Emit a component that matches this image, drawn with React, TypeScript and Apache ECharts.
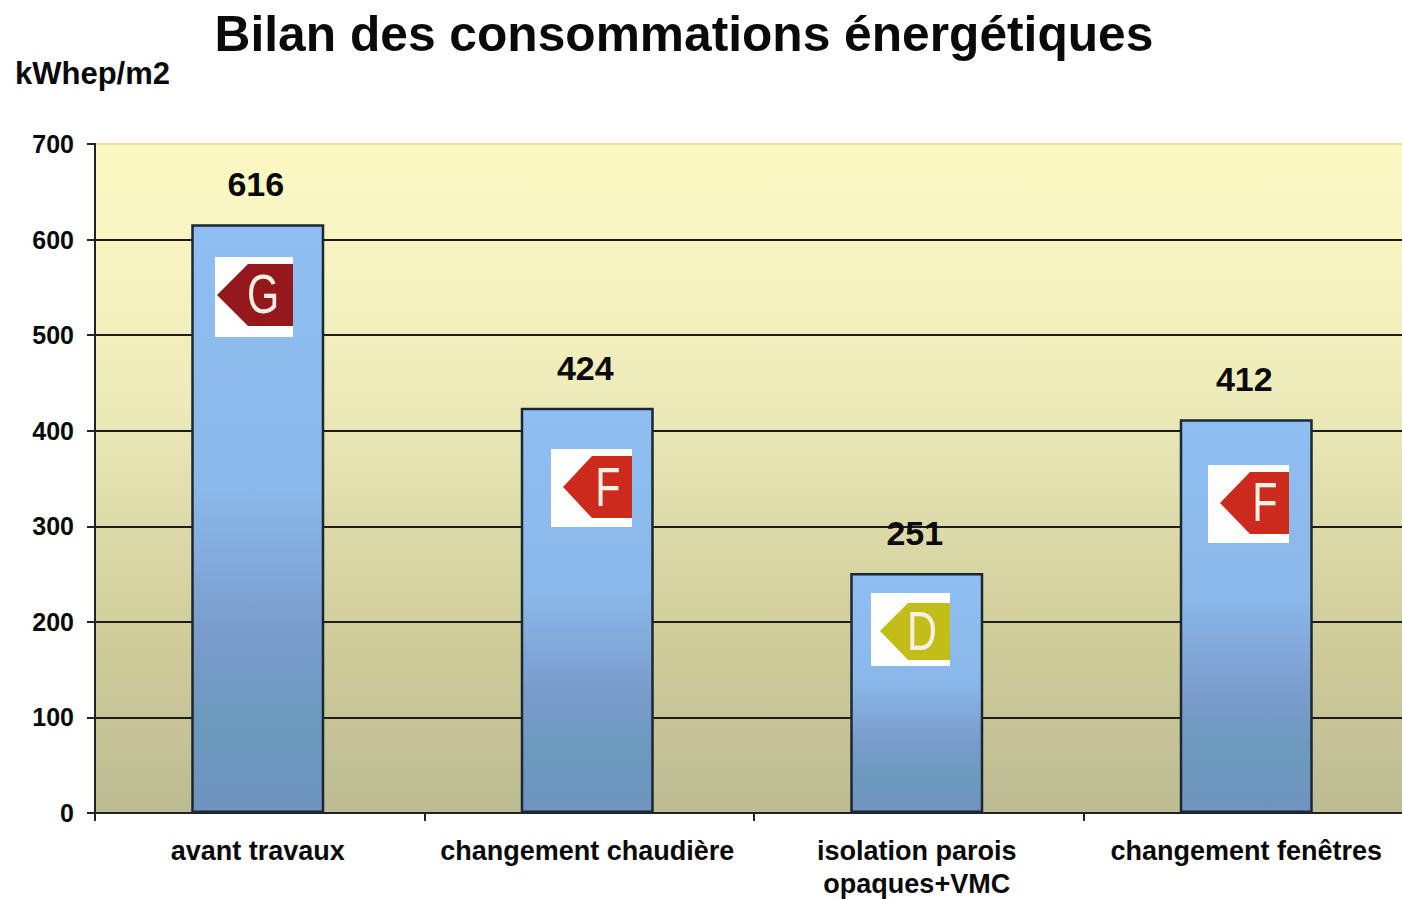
import React, { useEffect, useRef } from "react";
import * as echarts from "echarts";

const categories = ["avant travaux", "changement chaudière", "isolation parois\nopaques+VMC", "changement fenêtres"];
const consumption = [616, 424, 251, 412];
const yTicks = [0, 100, 200, 300, 400, 500, 600, 700];
const TITLE = "Bilan des consommations énergétiques";
const UNIT = "kWhep/m2";

const FONT = "'Liberation Sans', Arial, sans-serif";
const INK = "#0a0a0a";

type Box = { x: number; y: number; w: number; h: number };
type Arrow = { tip: number; shoulder: number; top: number; bottom: number; midY: number; textX: number; textY: number };

function badge(letter: string, color: string, b: Box, a: Arrow) {
  const { x, y, w, h } = b;
  return {
    type: "group",
    children: [
      { type: "rect", z: 20, shape: { x, y, width: w, height: h }, style: { fill: "#ffffff" } },
      {
        type: "polygon",
        z: 21,
        shape: {
          points: [
            [x + a.tip, a.midY],
            [x + a.shoulder, a.top],
            [x + w, a.top],
            [x + w, a.bottom],
            [x + a.shoulder, a.bottom],
          ],
        },
        style: { fill: color },
      },
      {
        type: "text",
        z: 22,
        x: x + a.textX,
        y: a.textY,
        scaleX: 0.74,
        style: {
          text: letter,
          fill: "#f4f1e4",
          font: `400 56px ${FONT}`,
          align: "center",
          verticalAlign: "middle",
        },
      },
    ],
  };
}

const option = {
  animation: false,
  backgroundColor: "#ffffff",
  title: {
    text: TITLE,
    left: 679,
    top: 4,
    textAlign: "center",
    textStyle: { fontFamily: FONT, fontSize: 49.7, fontWeight: "bold", color: INK },
  },
  grid: [
    {
      left: 95,
      top: 144,
      width: 1318,
      height: 669,
      show: true,
      borderWidth: 0,
      outerBoundsMode: "none",
      backgroundColor: new echarts.graphic.LinearGradient(0, 0, 0, 1, [
        { offset: 0, color: "#fbf8c4" },
        { offset: 0.14, color: "#f8f5c2" },
        { offset: 0.36, color: "#efecbb" },
        { offset: 0.55, color: "#dedcab" },
        { offset: 0.75, color: "#cfcc9a" },
        { offset: 1, color: "#bcbb93" },
      ]),
    },
    { left: 93, top: 144, width: 1318, height: 669, outerBoundsMode: "none" },
  ],
  xAxis: [
    {
      type: "category",
      gridIndex: 0,
      data: categories,
      axisLine: { show: true, lineStyle: { color: "#222222", width: 2 } },
      axisTick: { show: true, length: 8, alignWithLabel: false, lineStyle: { color: "#222222", width: 2 } },
      axisLabel: { show: false },
    },
    {
      type: "category",
      gridIndex: 1,
      data: categories,
      axisLine: { show: false },
      axisTick: { show: false },
      axisLabel: {
        margin: 21,
        interval: 0,
        lineHeight: 33,
        fontFamily: FONT,
        fontSize: 27,
        fontWeight: "bold",
        color: INK,
      },
    },
  ],
  yAxis: [
    {
      type: "value",
      gridIndex: 0,
      min: yTicks[0],
      max: yTicks[yTicks.length - 1],
      interval: 100,
      axisLine: { show: true, lineStyle: { color: "#222222", width: 2 } },
      axisTick: { show: true, length: 8, lineStyle: { color: "#222222", width: 2 } },
      axisLabel: { margin: 21, fontFamily: FONT, fontSize: 25, fontWeight: "bold", color: INK },
      splitLine: { show: true, lineStyle: { color: "#1c1c1c", width: 2 } },
    },
    {
      type: "value",
      gridIndex: 1,
      min: yTicks[0],
      max: yTicks[yTicks.length - 1],
      interval: 100,
      axisLine: { show: false },
      axisTick: { show: false },
      axisLabel: { show: false },
      splitLine: { show: false },
    },
  ],
  series: [
    {
      type: "bar",
      xAxisIndex: 1,
      yAxisIndex: 1,
      data: consumption,
      barWidth: 133,
      itemStyle: {
        borderColor: "#1c2733",
        borderWidth: 2.5,
        color: new echarts.graphic.LinearGradient(0, 0, 0, 1, [
          { offset: 0, color: "#8fbef2" },
          { offset: 0.45, color: "#8ab8ea" },
          { offset: 0.7, color: "#7a9ccc" },
          { offset: 0.85, color: "#6c99bd" },
          { offset: 1, color: "#6f94c0" },
        ]),
      },
      label: {
        show: true,
        position: "top",
        distance: 23,
        offset: [-2, 0],
        fontFamily: FONT,
        fontSize: 34,
        fontWeight: "bold",
        color: INK,
      },
      z: 5,
    },
  ],
  graphic: [
    {
      type: "text",
      x: 15,
      y: 73,
      style: {
        text: UNIT,
        fill: INK,
        font: `bold 31px ${FONT}`,
        align: "left",
        verticalAlign: "middle",
      },
    },
    {
      type: "line",
      z: 10,
      shape: { x1: 96, y1: 144, x2: 1402, y2: 144 },
      style: { stroke: "#fbd9a0", lineWidth: 2 },
    },
    badge("G", "#95191c", { x: 215, y: 257, w: 78, h: 80 }, { tip: 2, shoulder: 33, top: 264, bottom: 326, midY: 295, textX: 48, textY: 293 }),
    badge("F", "#cb2a1c", { x: 551, y: 449, w: 81, h: 78 }, { tip: 12, shoulder: 41, top: 456, bottom: 518, midY: 487, textX: 57, textY: 486 }),
    badge("D", "#c3bd1a", { x: 871, y: 593, w: 79, h: 73 }, { tip: 9, shoulder: 37, top: 603, bottom: 660, midY: 631, textX: 51, textY: 630 }),
    badge("F", "#cb2a1c", { x: 1208, y: 465, w: 81, h: 78 }, { tip: 12, shoulder: 42, top: 472, bottom: 534, midY: 503, textX: 57, textY: 501 }),
  ],
};

export default function App() {
  const ref = useRef<HTMLDivElement>(null);
  useEffect(() => {
    const chart = echarts.init(ref.current as HTMLDivElement, undefined, { renderer: "svg" });
    chart.setOption(option as any);
    return () => chart.dispose();
  }, []);
  return (
    <div
      ref={ref}
      style={{ position: "fixed", left: 0, top: 0, width: 1402, height: 899, background: "#fff" }}
    />
  );
}
